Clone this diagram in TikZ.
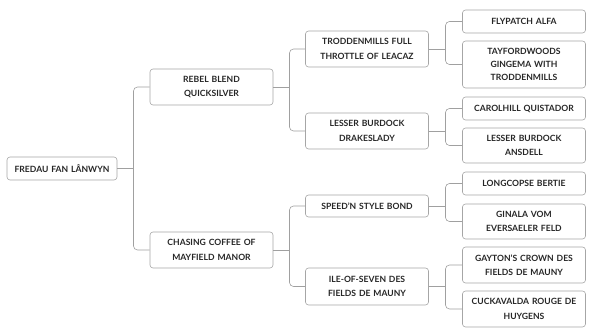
\documentclass[tikz,border=0pt]{standalone}
\usepackage{fontspec}
\setmainfont{Lato}
\definecolor{ink}{HTML}{262626}
\definecolor{boxline}{HTML}{A6A6A6}
\definecolor{wire}{HTML}{A0A0A0}
\begin{document}
\begin{tikzpicture}[x=1pt,y=-1pt,
  horse/.style={draw=boxline,line width=0.6pt,rounded corners=3pt,fill=white,text=ink,
    align=center,text width=113pt,inner xsep=5pt,inner ysep=0pt,
    font=\fontsize{8.6}{14.5}\selectfont\bfseries},
  link/.style={draw=wire,line width=0.6pt,rounded corners=4pt}]
\useasboundingbox (0,0) rectangle (589,336);
\node[horse,text width=100pt,minimum height=23pt] (fredau) at (62,168.5) {FREDAU FAN LÂNWYN};
\node[horse,minimum height=36pt] (rebel) at (211.5,87) {REBEL BLEND\\QUICKSILVER};
\node[horse,minimum height=36pt] (chasing) at (211.5,250) {CHASING COFFEE OF\\MAYFIELD MANOR};
\node[horse,minimum height=36pt] (trodden) at (367,49) {TRODDENMILLS FULL\\THROTTLE OF LEACAZ};
\node[horse,minimum height=36pt] (drakes) at (367,131) {LESSER BURDOCK\\DRAKESLADY};
\node[horse,minimum height=22pt] (speed) at (367,206) {SPEED'N STYLE BOND};
\node[horse,minimum height=37pt] (ile) at (367,286.5) {ILE-OF-SEVEN DES\\FIELDS DE MAUNY};
\node[horse,minimum height=23pt] (flypatch) at (524,21.5) {FLYPATCH ALFA};
\node[horse,minimum height=47pt,font=\fontsize{8.6}{13}\selectfont\bfseries] (tayford) at (524,64.5) {TAYFORDWOODS\\GINGEMA WITH\\TRODDENMILLS};
\node[horse,minimum height=23pt] (carolhill) at (524,108.5) {CAROLHILL QUISTADOR};
\node[horse,minimum height=35pt] (ansdell) at (524,145.5) {LESSER BURDOCK\\ANSDELL};
\node[horse,minimum height=23pt] (longcopse) at (524,183.5) {LONGCOPSE BERTIE};
\node[horse,minimum height=35pt] (ginala) at (524,221.5) {GINALA VOM\\EVERSAELER FELD};
\node[horse,minimum height=36pt] (gayton) at (524,265) {GAYTON'S CROWN DES\\FIELDS DE MAUNY};
\node[horse,minimum height=36pt] (cuckavalda) at (524,309) {CUCKAVALDA ROUGE DE\\HUYGENS};
\coordinate (j0) at (133.5,168.5);
\coordinate (j1) at (289.5,87);
\coordinate (j2) at (289.5,250);
\coordinate (j3) at (445.5,49);
\coordinate (j4) at (445.5,131);
\coordinate (j5) at (445.5,206);
\coordinate (j6) at (445.5,286.5);
\draw[link] (fredau.east) -- (j0);
\draw[link] (rebel.west) -| (j0) |- (chasing.west);
\draw[link] (rebel.east) -- (j1);
\draw[link] (trodden.west) -| (j1) |- (drakes.west);
\draw[link] (chasing.east) -- (j2);
\draw[link] (speed.west) -| (j2) |- (ile.west);
\draw[link] (trodden.east) -- (j3);
\draw[link] (flypatch.west) -| (j3) |- (tayford.west);
\draw[link] (drakes.east) -- (j4);
\draw[link] (carolhill.west) -| (j4) |- (ansdell.west);
\draw[link] (speed.east) -- (j5);
\draw[link] (longcopse.west) -| (j5) |- (ginala.west);
\draw[link] (ile.east) -- (j6);
\draw[link] (gayton.west) -| (j6) |- (cuckavalda.west);
\end{tikzpicture}
\end{document}
